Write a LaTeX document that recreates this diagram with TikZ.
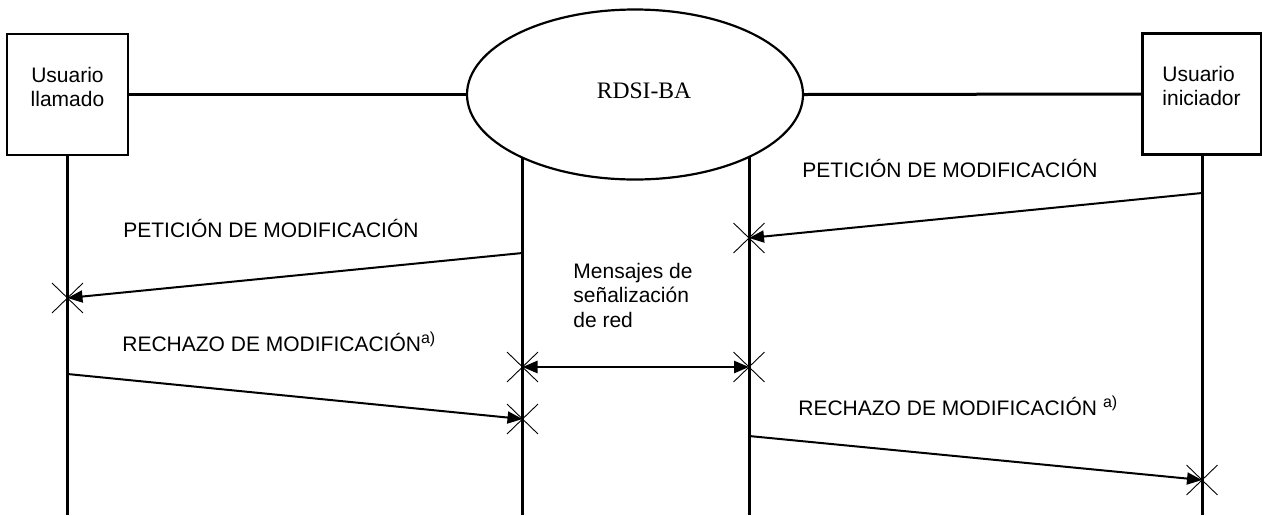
\documentclass[tikz,border=0pt]{standalone}
\usepackage{fontspec}
\setmainfont{Liberation Sans}
\newfontfamily\serifrm{Liberation Serif}
\usetikzlibrary{arrows.meta,shapes.geometric,shapes.misc}
\begin{document}
\begin{tikzpicture}[x=0.5pt,y=-0.5pt,
  txt/.style={font=\fontsize{10.5}{12}\selectfont, inner sep=0pt},
  lbl/.style={txt, anchor=base west},
  boxst/.style={draw, line width=1.1pt, minimum width=60.5pt, minimum height=60.5pt, inner sep=0pt},
  netst/.style={draw, ellipse, line width=1.1pt, minimum width=168pt, minimum height=85pt, inner sep=0pt},
  life/.style={line width=1.5pt},
  msg/.style={line width=1pt, -{Triangle[length=7.5pt,width=6pt]}},
  dmsg/.style={line width=1.3pt, {Triangle[length=7.5pt,width=6pt]}-{Triangle[length=7.5pt,width=6pt]}},
  xmark/.style={draw, cross out, line width=0.45pt, minimum width=15pt, minimum height=14.5pt, inner sep=0pt}
]
\useasboundingbox (0,0) rectangle (1262,515);

% entities
\node[boxst] (lbox) at (67.5,94.5) {};
\node[boxst, minimum width=59.5pt] (rbox) at (1202,94) {};
\node[netst] (rdsi) at (635,94.5) {};
\node[txt, align=center, anchor=base] (ltxt) at (67.5,106) {Usuario\\llamado};
\node[txt, align=left, anchor=base west] (rtxt) at (1162,105) {Usuario\\iniciador};
\node[inner sep=0pt, anchor=base, font=\serifrm\fontsize{11.8}{13}\selectfont] (rdsitxt) at (644,98) {RDSI-BA};

% horizontal links
\draw[life] (lbox.east) -- (rdsi.west);
\draw[life] (rdsi.east) -- (rbox.west);

% lifeline ends
\coordinate (bot) at (0,515);
\coordinate (e1) at (522.5,157);
\coordinate (e2) at (749,157);
\draw[life] (lbox.south) -- (lbox.south |- bot);
\draw[life] (rbox.south) -- (rbox.south |- bot);
\draw[life] (e1) -- (e1 |- bot);
\draw[life] (e2) -- (e2 |- bot);

% message points
\coordinate (a1s) at (1202,193);
\coordinate (a1e) at (749,238);
\coordinate (a2s) at (522.5,253);
\coordinate (a2e) at (67.5,298);
\coordinate (a3s) at (522.5,367);
\coordinate (a3e) at (749,367);
\coordinate (a4s) at (67.5,374);
\coordinate (a4e) at (522.5,419);
\coordinate (a5s) at (749,436);
\coordinate (a5e) at (1202,480);

\draw[msg] (a1s) -- (a1e);
\draw[msg] (a2s) -- (a2e);
\draw[dmsg] (a3s) -- (a3e);
\draw[msg] (a4s) -- (a4e);
\draw[msg] (a5s) -- (a5e);

\node[xmark] (x1) at (a1e) {};
\node[xmark] (x2) at (a2e) {};
\node[xmark] (x3) at (a3s) {};
\node[xmark] (x4) at (a3e) {};
\node[xmark] (x5) at (a4e) {};
\node[xmark] (x6) at (a5e) {};

% labels
\node[lbl] (l1) at (802,177) {PETICIÓN DE MODIFICACIÓN};
\node[lbl] (l2) at (123,237) {PETICIÓN DE MODIFICACIÓN};
\node[lbl, align=left] (l3) at (573,327) {Mensajes de\\[0.25pt]señalización\\[0.25pt]de red};
\node[lbl] (l4) at (122,351) {RECHAZO DE MODIFICACIÓN\raisebox{4pt}{\fontsize{8}{8}\selectfont a)}};
\node[lbl] (l5) at (798,415) {RECHAZO DE MODIFICACIÓN\hspace{3pt}\raisebox{4pt}{\fontsize{8}{8}\selectfont a)}};
\end{tikzpicture}
\end{document}
